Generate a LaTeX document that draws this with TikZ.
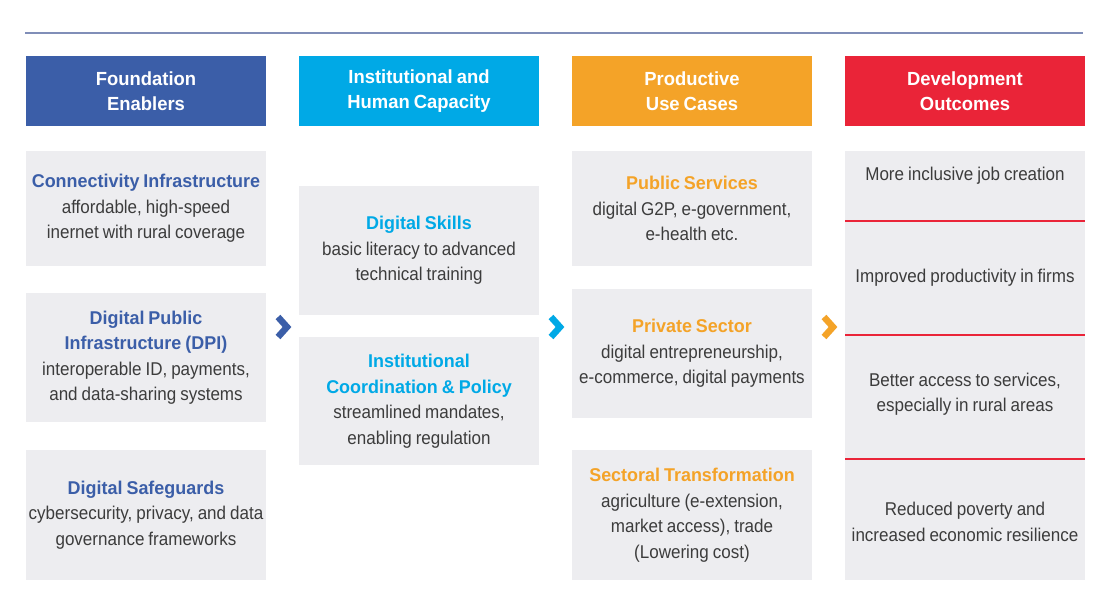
\documentclass[tikz,border=0pt]{standalone}
\usepackage{fontspec}
\setmainfont{Liberation Sans}[FakeStretch=0.92, BoldFeatures={FakeStretch=0.97}]
\usetikzlibrary{positioning}

\definecolor{fblue}{RGB}{59,94,168}
\definecolor{icyan}{RGB}{0,169,230}
\definecolor{porange}{RGB}{244,163,40}
\definecolor{dred}{RGB}{234,36,56}
\definecolor{boxgray}{RGB}{237,237,240}
\definecolor{txtgray}{RGB}{60,60,60}
\definecolor{rulegray}{RGB}{128,142,184}

\newcommand{\bodyfont}{\fontsize{18.5}{25.5}\selectfont}
\newcommand{\headfont}{\bfseries\fontsize{19}{25}\selectfont}
\newcommand{\tightspaces}{\frenchspacing\spaceskip 4pt\relax\xspaceskip 4pt\relax\hyphenpenalty 10000\relax}

\begin{document}
\begin{tikzpicture}
    [
        x=1pt, y=1pt,
        every node/.style={inner sep=0pt, outer sep=0pt,
            execute at begin node=\tightspaces},
        header/.style={minimum width=240pt, minimum height=70pt,
            text=white, align=center, font=\headfont},
        card/.style={fill=boxgray, minimum width=240pt, text width=240pt,
            align=center, text=txtgray, font=\bodyfont},
        outtext/.style={text width=240pt, align=center, text=txtgray,
            font=\bodyfont},
        chevron/.style={line width=6.5pt, miter limit=10},
        divider/.style={line width=1.2pt}
    ]
    \useasboundingbox[fill=white] (0,0) rectangle (1096,-616);

    % top rule
    \coordinate (rulestart) at (25,-33);
    \coordinate (ruleend) at (1083,-33);
    \draw[rulegray, line width=1.2pt] (rulestart) -- (ruleend);

    % column headers
    \node[header, fill=fblue] (foundation) at (146,-91) {Foundation\\Enablers};
    \node[header, fill=icyan, right=33pt of foundation] (capacity) {Institutional and\\Human Capacity};
    \node[header, fill=porange, right=33pt of capacity] (usecases) {Productive\\Use Cases};
    \node[header, fill=dred, right=33pt of usecases] (outcomes) {Development\\Outcomes};

    % foundation enablers
    \node[card, minimum height=115pt, below=25pt of foundation] (connect)
        {\textcolor{fblue}{\bfseries Connectivity Infrastructure}\\affordable, high-speed\\inernet with rural coverage};
    \node[card, minimum height=129pt, below=27pt of connect] (dpi)
        {\textcolor{fblue}{\bfseries Digital Public\\Infrastructure (DPI)}\\interoperable ID, payments,\\and data-sharing systems};
    \node[card, minimum height=130pt, below=28pt of dpi] (safeguards)
        {\textcolor{fblue}{\bfseries Digital Safeguards}\\cybersecurity, privacy, and data\\governance frameworks};

    % institutional and human capacity
    \node[card, minimum height=129pt, below=60pt of capacity] (skills)
        {\textcolor{icyan}{\bfseries Digital Skills}\\basic literacy to advanced\\technical training};
    \node[card, minimum height=128pt, below=22pt of skills] (policy)
        {\textcolor{icyan}{\bfseries Institutional\\Coordination \& Policy}\\streamlined mandates,\\enabling regulation};

    % productive use cases
    \node[card, minimum height=115pt, below=25pt of usecases] (public)
        {\textcolor{porange}{\bfseries Public Services}\\digital G2P, e-government,\\e-health etc.};
    \node[card, minimum height=129pt, below=23pt of public] (private)
        {\textcolor{porange}{\bfseries Private Sector}\\digital entrepreneurship,\\e-commerce, digital payments};
    \node[card, minimum height=130pt, below=32pt of private] (sectoral)
        {\textcolor{porange}{\bfseries Sectoral Transformation}\\agriculture (e-extension,\\market access), trade\\(Lowering cost)};

    % development outcomes
    \node[card, minimum height=429pt, below=25pt of outcomes] (results) {};
    \coordinate (cutA) at (0,-221);
    \coordinate (cutB) at (0,-335);
    \coordinate (cutC) at (0,-459);
    \draw[dred, divider] (results.west |- cutA) -- (results.east |- cutA);
    \draw[dred, divider] (results.west |- cutB) -- (results.east |- cutB);
    \draw[dred, divider] (results.west |- cutC) -- (results.east |- cutC);
    \node[outtext] (jobs) at (965,-176) {More inclusive job creation};
    \node[outtext] (productivity) at (965,-278) {Improved productivity in firms};
    \node[outtext] (access) at (965,-394) {Better access to services,\\especially in rural areas};
    \node[outtext] (poverty) at (965,-522) {Reduced poverty and\\increased economic resilience};

    % chevrons between columns
    \coordinate (arrowA) at (283,-327);
    \coordinate (arrowB) at (556,-327);
    \coordinate (arrowC) at (829,-327);
    \draw[chevron, fblue] ([shift={(-5,10)}]arrowA) -- ([shift={(4,0)}]arrowA) -- ([shift={(-5,-10)}]arrowA);
    \draw[chevron, icyan] ([shift={(-5,10)}]arrowB) -- ([shift={(4,0)}]arrowB) -- ([shift={(-5,-10)}]arrowB);
    \draw[chevron, porange] ([shift={(-5,10)}]arrowC) -- ([shift={(4,0)}]arrowC) -- ([shift={(-5,-10)}]arrowC);
\end{tikzpicture}
\end{document}
